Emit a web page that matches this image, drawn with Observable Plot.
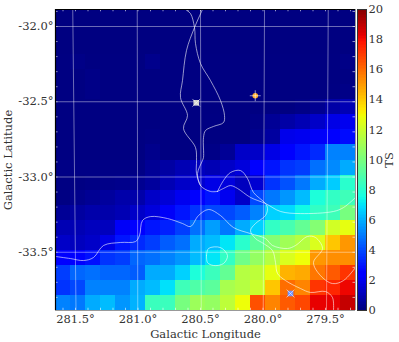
<!DOCTYPE html>
<html><head><meta charset="utf-8">
<script src="https://cdn.jsdelivr.net/npm/d3@7"></script>
<script src="https://cdn.jsdelivr.net/npm/@observablehq/plot@0.6"></script>
<style>html,body{margin:0;padding:0;background:#fff}#c{position:relative;width:399px;height:342px}#c svg{position:absolute;left:0;top:0;background:transparent}</style>
</head><body><div id="c"></div>
<script>
const lonStart = 281.66, lonStep = 0.12, latTop = -31.887, latStep = 0.1;
// TS per cell, top row first, highest longitude first
const tsRows = [
[.02,.02,.02,.02,.02,.02,.02,.02,.02,.02,.02,.02,.02,.02,.02,.02,.02,.02,.02,.02],
[.02,.02,.02,.02,.02,.02,.02,.02,.02,.02,.02,.02,.02,.02,.02,.02,.02,.02,.02,.02],
[.02,.02,.02,.02,.02,.02,.02,.02,.02,.02,.02,.02,.02,.02,.02,.02,.02,.02,.02,.02],
[.03,.12,.03,.03,.03,.03,.2,.03,.03,.03,.03,.03,.03,.03,.03,.03,.03,.03,.03,.12],
[.03,.03,.12,.03,.03,.03,.03,.03,.03,.03,.03,.03,.03,.03,.03,.03,.03,.03,.03,.05],
[.03,.03,.12,.03,.03,.03,.03,.03,.03,.03,.03,.03,.03,.03,.03,.03,.03,.03,.05,.12],
[.03,.03,.03,.03,.03,.03,.03,.03,.03,.03,.03,.03,.03,.03,.03,.03,.12,.3,.65,.9],
[.03,.03,.03,.03,.03,.03,.03,.03,.03,.03,.05,.03,.03,.12,.38,.65,.9,1.25,1.77,1.94],
[.03,.03,.03,.03,.03,.03,.08,.03,.03,.03,.03,.03,.03,.2,.55,1.85,1.94,2.1,2.3,2.7],
[.03,.03,.03,.03,.03,.03,.2,.03,.03,.1,.12,.38,1.25,1.25,1.77,2.3,2.9,3.3,5.05,5.05],
[.1,.1,.1,.1,.1,.1,.38,.6,.9,1.07,.9,1.25,1.6,2.3,2.9,3.5,3.7,4.7,5.2,5.85],
[.05,.05,.1,.15,.2,.3,.5,.9,1.25,1.42,1.77,1.6,1.07,1.42,3.5,4.1,4.85,5.85,6.5,8],
[.05,.2,.35,.5,.73,.73,1.25,1.5,1.94,2.3,2.9,1.94,1.25,3.9,4.85,5.45,6.2,7.7,8.2,8.5],
[.38,.55,.73,.73,.9,1.25,1.6,2.1,2.9,3.5,3.9,3.9,4.3,5.05,6.6,6.8,7.4,8.2,8.5,9.9],
[.9,.9,1.07,1.07,2.1,2.3,2.9,3.1,3.7,4.7,5.6,4.85,5.85,6.6,8.2,8.7,9.4,10.2,12.1,12.6],
[1.25,1.07,1.25,1.77,2.9,3.3,3.7,4.3,4.7,5.85,6.2,7,8,9.2,10.2,10.9,11.4,12.3,14,15],
[2.4,2.4,2.8,3.5,3.7,4.5,4.7,5.05,5.45,6.2,7,8.2,9.7,10.6,11.4,12.3,12.8,15,15.2,15.2],
[3.7,4.5,4.7,4.5,4.5,4.3,5.85,5.85,6.6,7.7,8.4,9.4,11.4,11.6,12.6,14.4,14.6,15.7,16.3,17.1],
[3.5,3.9,5.05,5.05,5.05,5.85,6.2,6.9,8.5,8.9,9.2,11.1,11.4,11.9,14,15.9,15.4,17.1,17.4,18.1],
[5.05,4.85,5.85,6.2,5.45,6,8.4,8.4,9.9,10.8,10.6,11.6,12.8,16.5,15.4,16.3,16.7,18.2,18.2,18.8]
];
const jetDomain = [0,2.2,2.5,6.8,7,7.5,12.8,13,13.2,17.8,18.2,20];
const jetRange = ["#000080","#0000ff","#0000ff","#00dbff","#00e6f7","#15ffe2","#eeff08","#f7f600","#ffec00","#ff1300","#e80000","#800000"];
const lonTicks = [281.5,281,280.5,280,279.5];
const latTicks = [-32,-32.5,-33,-33.5];
const lonMinor = [281.6,281.5,281.4,281.3,281.2,281.1,281,280.9,280.8,280.7,280.6,280.5,280.4,280.3,280.2,280.1,280,279.9,279.8,279.7,279.6,279.5,279.4,279.3];
const latMinor = [-31.9,-32,-32.1,-32.2,-32.3,-32.4,-32.5,-32.6,-32.7,-32.8,-32.9,-33,-33.1,-33.2,-33.3,-33.4,-33.5,-33.6,-33.7,-33.8];
// meridians: longitude at the top and the bottom edge
const gridLonTop = [281.522,281.006,280.5,279.988,279.478];
const gridLonBottom = [281.496,281.002,280.494,279.998,279.492];
const cbTicks = [0,2,4,6,8,10,12,14,16,18,20];
// contours [lon, lat]
const curveA = [[280.62,-31.887],[280.58,-31.914],[280.548,-32.007],[280.54,-32.113],[280.5,-32.246],[280.42,-32.359],[280.34,-32.492],[280.308,-32.591],[280.316,-32.638],[280.396,-32.664],[280.46,-32.691],[280.476,-32.738],[280.476,-32.87],[280.484,-32.89],[280.524,-32.977],[280.5,-33.057],[280.42,-33.096],[280.364,-33.096]];
const curveB = [[280.484,-31.887],[280.548,-32.007],[280.612,-32.159],[280.644,-32.359],[280.66,-32.472],[280.604,-32.591],[280.636,-32.678],[280.54,-32.804],[280.532,-32.89],[280.532,-32.977],[280.5,-33.057]];
const curveU = [[280.364,-33.096],[280.316,-33.023],[280.26,-32.97],[280.18,-32.957],[280.124,-33.01],[280.076,-33.103],[279.98,-33.176],[279.964,-33.209],[279.98,-33.256],[280.06,-33.309],[280.1,-33.356],[280.06,-33.409],[279.996,-33.442],[279.924,-33.489],[279.9,-33.568],[279.884,-33.641],[279.82,-33.688],[279.7,-33.741],[279.62,-33.767],[279.5,-33.761],[279.444,-33.801],[279.436,-33.887]];
const curveL = [[280.364,-33.096],[280.316,-33.076],[280.26,-33.057],[280.204,-33.076],[280.1,-33.136],[279.98,-33.176],[279.86,-33.229],[279.7,-33.243],[279.436,-33.229],[279.356,-33.203],[279.26,-33.136]];
const curveC = [[281.66,-33.528],[281.54,-33.542],[281.436,-33.555],[281.356,-33.535],[281.276,-33.455],[281.14,-33.435],[281.02,-33.429],[280.988,-33.389],[280.964,-33.289],[280.9,-33.263],[280.764,-33.276],[280.644,-33.309],[280.58,-33.329],[280.516,-33.256],[280.436,-33.216],[280.34,-33.256],[280.236,-33.336],[280.1,-33.376],[279.98,-33.409],[279.924,-33.455],[279.804,-33.475],[279.74,-33.455],[279.644,-33.395],[279.58,-33.402],[279.524,-33.475],[279.596,-33.568],[279.54,-33.655],[279.444,-33.708],[279.356,-33.688],[279.26,-33.601]];
const loopE = [[280.452,-33.522],[280.436,-33.475],[280.34,-33.469],[280.284,-33.522],[280.316,-33.575],[280.396,-33.588],[280.444,-33.568],[280.452,-33.522]];
const sourceNames = ["a","b","c"];
const sourceLon = [280.534,280.062,279.78];
const sourceLat = [-32.507,-32.46,-33.774];
const sourceFill = ["#d0d0d0","#ffa820","#6f90ff"];

const font = "'DejaVu Serif', serif";
const cells = tsRows.flatMap((row,r)=>row.map((v,c)=>({
  x1: lonStart - c*lonStep, x2: lonStart - (c+1)*lonStep,
  y1: latTop - r*latStep, y2: latTop - (r+1)*latStep, v})));
const yMin = latTop - tsRows.length*latStep;
const xEnd = lonStart - tsRows[0].length*lonStep;
const colorOpt = {type:"linear", domain:jetDomain, range:jetRange, interpolate:"rgb"};
const gl = {stroke:"#fff", strokeOpacity:0.42, strokeWidth:1};
const cl = {x:"0", y:"1", stroke:"#fff", strokeOpacity:0.65, strokeWidth:0.9, curve:"catmull-rom"};
const curves = [curveA,curveB,curveU,curveL,curveC,loopE];
const sources = sourceNames.map((n,i)=>({n,lon:sourceLon[i],lat:sourceLat[i],fill:sourceFill[i]}));

const main = Plot.plot({
  width:399, height:342, marginLeft:55, marginRight:44, marginTop:9, marginBottom:32,
  style:{fontFamily:font, fontSize:"11.5px", color:"#333", background:"transparent"},
  x:{domain:[lonStart,xEnd]}, y:{domain:[yMin,latTop]},
  color:colorOpt,
  marks:[
    Plot.rect(cells,{x1:"x1",x2:"x2",y1:"y1",y2:"y2",fill:"v",inset:0,shapeRendering:"crispEdges"}),
    ...gridLonTop.map((t,i)=>Plot.line([[t,latTop],[gridLonBottom[i],yMin]],{x:"0",y:"1",...gl})),
    ...latTicks.map(l=>Plot.line([[lonStart,l],[xEnd,l]],{x:"0",y:"1",...gl})),
    ...curves.map(c=>Plot.line(c,cl)),
    Plot.ruleX(lonMinor,{x:d=>d,y1:latTop,y2:latTop-0.015,stroke:"#fff",strokeOpacity:.6}),
    Plot.ruleX(lonMinor,{x:d=>d,y1:yMin,y2:yMin+0.015,stroke:"#fff",strokeOpacity:.6}),
    Plot.ruleY(latMinor,{y:d=>d,x1:lonStart,x2:lonStart-0.02,stroke:"#fff",strokeOpacity:.6}),
    Plot.ruleY(latMinor,{y:d=>d,x1:xEnd,x2:xEnd+0.02,stroke:"#fff",strokeOpacity:.6}),
    Plot.dot(sources,{x:"lon",y:"lat",r:d=>d.n==="b"?3.2:4.2,fill:"fill",symbol:d=>d.n==="b"?"circle":"square"}),
    Plot.dot(sources,{x:"lon",y:"lat",r:3.6,symbol:d=>d.n==="b"?"plus":"times",stroke:"#fff",strokeOpacity:.7,strokeWidth:.8}),
    Plot.ruleX([lonStart],{stroke:"#000",strokeWidth:1.2}),
    Plot.ruleY([latTop],{stroke:"#000",strokeWidth:1.2}),
    Plot.ruleX([xEnd],{stroke:"#999"}),
    Plot.ruleY([yMin],{stroke:"#999"}),
    Plot.axisX(lonTicks,{label:"Galactic Longitude",labelAnchor:"center",labelArrow:"none",labelOffset:27,tickSize:0,tickPadding:4,tickFormat:d=>d.toFixed(1)+"°"}),
    Plot.axisY(latTicks,{label:"Galactic Latitude",labelAnchor:"center",labelArrow:"none",labelOffset:52,tickSize:0,tickPadding:2,tickFormat:d=>d.toFixed(1)+"°"})
  ]
});
const ramp = d3.range(0,20,0.1).map(v=>({v}));
const bar = Plot.plot({
  width:399, height:342, marginLeft:357, marginRight:33, marginTop:9, marginBottom:32,
  style:{fontFamily:font, fontSize:"11.5px", color:"#333", background:"transparent"},
  x:{domain:[0,1],axis:null}, y:{domain:[0,20]},
  color:colorOpt,
  marks:[
    Plot.rect(ramp,{x1:0,x2:1,y1:"v",y2:d=>d.v+0.1,fill:"v",shapeRendering:"crispEdges"}),
    Plot.frame({stroke:"#333"}),
    Plot.axisY(cbTicks,{anchor:"right",label:"TS",labelAnchor:"center",labelArrow:"none",labelOffset:26,tickSize:0,tickPadding:2,tickFormat:d=>String(d)})
  ]
});
document.getElementById("c").append(main,bar);
</script></body></html>
